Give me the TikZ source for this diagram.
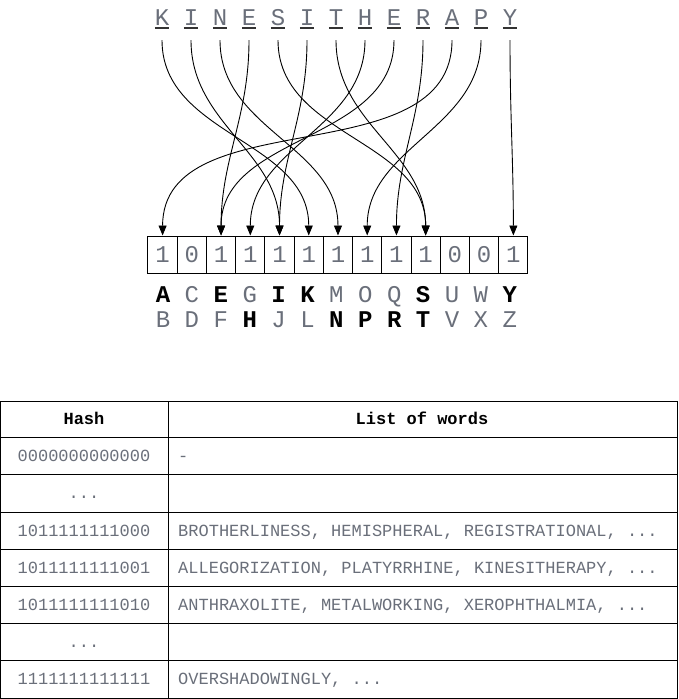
\documentclass[tikz,border=0pt]{standalone}
\usepackage{fontspec}
\setmonofont{Liberation Mono}
\usetikzlibrary{arrows.meta}
\definecolor{txt}{HTML}{6A6F7A}
\definecolor{ulc}{HTML}{333333}
\newcommand\ulet[1]{\rlap{\color{ulc}\rule[-4pt]{0.6em}{1.8pt}}#1}
\begin{document}
\begin{tikzpicture}[x=1pt,y=1pt,
  toplet/.style={anchor=base, inner xsep=0pt, inner ysep=11pt, font=\fontsize{24}{28}\selectfont\ttfamily, text=txt},
  bitbox/.style={draw, line width=1pt, minimum width=29.23pt, minimum height=37pt, inner sep=0pt, font=\fontsize{24}{28}\selectfont\ttfamily, text=txt},
  rowlet/.style={anchor=base, inner sep=0pt, font=\fontsize{24}{28}\selectfont\ttfamily, text=txt},
  boldlet/.style={rowlet, font=\fontsize{24}{28}\selectfont\ttfamily\bfseries, text=black},
  conn/.style={-{Triangle[width=8pt,length=10pt]}, line width=0.9pt, black},
  tline/.style={line width=1pt, black},
  cellc/.style={anchor=base, inner sep=0pt, font=\fontsize{17}{20}\selectfont\ttfamily, text=txt},
  celll/.style={cellc, anchor=base west},
  headc/.style={anchor=base, inner sep=0pt, font=\fontsize{17}{20}\selectfont\ttfamily\bfseries, text=black}]
\useasboundingbox (0,0) rectangle (678,-699);

% top word
\foreach \l [count=\i] in {K,I,N,E,S,I,T,H,E,R,A,P,Y}
  \node[toplet] (t\i) at ({162+29*(\i-1)},-25) {\ulet{\l}};

% bit boxes
\foreach \b [count=\i] in {1,0,1,1,1,1,1,1,1,1,0,0,1}
  \node[bitbox] (b\i) at ({162.6+29.23*(\i-1)},-254.5) {\b};

% letter rows
\foreach \l/\s [count=\i] in {A/boldlet,C/rowlet,E/boldlet,G/rowlet,I/boldlet,K/boldlet,M/rowlet,O/rowlet,Q/rowlet,S/boldlet,U/rowlet,W/rowlet,Y/boldlet}
  \node[\s] (r\i) at ({163+28.9*(\i-1)},-302) {\l};
\foreach \l/\s [count=\i] in {B/rowlet,D/rowlet,F/rowlet,H/boldlet,J/rowlet,L/rowlet,N/boldlet,P/boldlet,R/boldlet,T/boldlet,V/rowlet,X/rowlet,Z/rowlet}
  \node[\s] (s\i) at ({163+28.9*(\i-1)},-327) {\l};

% connectors
\foreach \i/\j in {1/6,2/5,3/7,4/3,5/10,6/5,7/10,8/4,9/3,10/9,11/1,12/8,13/13}
  \draw[conn] (t\i.south) to[out=-90,in=90] (b\j.north);

% table
\draw[tline] (0.5,-401) rectangle (677.5,-698);
\draw[tline] (168,-401) -- (168,-698);
\foreach \y in {437.5,474.5,512,549,586,623,660.5}
  \draw[tline] (0.5,-\y) -- (677.5,-\y);

\node[headc] (hh) at (84,-424.5) {Hash};
\node[headc] (hw) at (422,-424.5) {List of words};
\node[cellc] (h1) at (84,-461.5) {0000000000000};
\node[celll] (w1) at (178,-461.5) {-};
\node[cellc] (h2) at (84,-498.5) {...};
\node[cellc] (h3) at (84,-536) {1011111111000};
\node[celll] (w3) at (178,-536) {BROTHERLINESS, HEMISPHERAL, REGISTRATIONAL, ...};
\node[cellc] (h4) at (84,-573) {1011111111001};
\node[celll] (w4) at (178,-573) {ALLEGORIZATION, PLATYRRHINE, KINESITHERAPY, ...};
\node[cellc] (h5) at (84,-610) {1011111111010};
\node[celll] (w5) at (178,-610) {ANTHRAXOLITE, METALWORKING, XEROPHTHALMIA, ...};
\node[cellc] (h6) at (84,-647) {...};
\node[cellc] (h7) at (84,-684.5) {1111111111111};
\node[celll] (w7) at (178,-684.5) {OVERSHADOWINGLY, ...};
\end{tikzpicture}
\end{document}
